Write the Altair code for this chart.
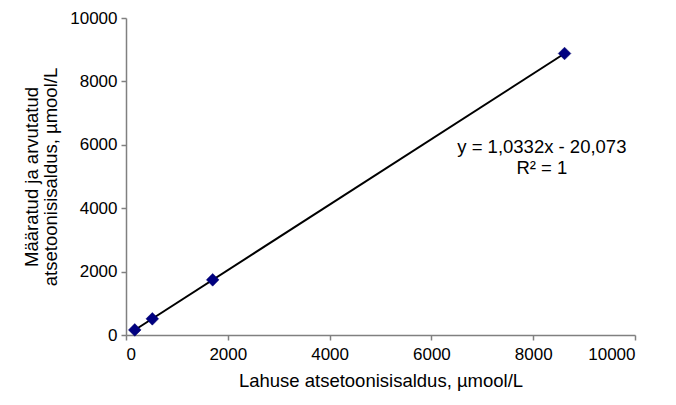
import altair as alt
import pandas as pd

x_vals = [172, 517, 1703, 8616]
y_vals = [160, 510, 1740, 8880]
eq_text = ["y = 1,0332x - 20,073", "R² = 1"]
eq_x = [8170, 8170]
eq_y = [5930, 5270]

df = pd.DataFrame({"x": x_vals, "y": y_vals})
tdf = pd.DataFrame({"t": eq_text, "x": eq_x, "y": eq_y})

font = "Liberation Sans"
fs = 17
tfs = 18.5

xscale = alt.Scale(domain=[0, 10000], nice=False)
yscale = alt.Scale(domain=[0, 10000], nice=False)

xaxis = alt.Axis(title="Lahuse atsetoonisisaldus, µmool/L", values=[0, 2000, 4000, 6000, 8000, 10000],
                 grid=False, tickSize=5, labelPadding=6, titlePadding=9, format="d")
yaxis = alt.Axis(title=["Määratud ja arvutatud", "atsetoonisisaldus, µmool/L"],
                 values=[0, 2000, 4000, 6000, 8000, 10000],
                 grid=False, tickSize=5, labelPadding=4, titlePadding=9, format="d",
                 titleLineHeight=19)

base = alt.Chart(df)

line = base.transform_regression("x", "y").mark_line(color="black", strokeWidth=2).encode(
    x=alt.X("x:Q", scale=xscale, axis=xaxis),
    y=alt.Y("y:Q", scale=yscale, axis=yaxis),
)

pts = base.mark_point(shape="diamond", filled=True, color="#000080", size=160, opacity=1,
                      stroke="#000066", strokeWidth=0.5).encode(
    x=alt.X("x:Q", scale=xscale),
    y=alt.Y("y:Q", scale=yscale),
)

txt = alt.Chart(tdf).mark_text(font=font, fontSize=tfs, color="black").encode(
    x=alt.X("x:Q", scale=xscale),
    y=alt.Y("y:Q", scale=yscale),
    text="t:N",
)

chart = alt.layer(line, pts, txt).properties(
    width=509, height=317,
    padding={"left": 14, "top": 1, "right": 5, "bottom": 5},
).configure_view(
    stroke=None
).configure_axis(
    labelFont=font, titleFont=font, labelFontSize=fs, titleFontSize=tfs,
    labelColor="black", titleColor="black", titleFontWeight="normal",
    domainColor="#808080", tickColor="#808080", domainWidth=1.5, tickWidth=1.5,
)

chart.save("out.html", embed_options={"renderer": "svg", "actions": False})
